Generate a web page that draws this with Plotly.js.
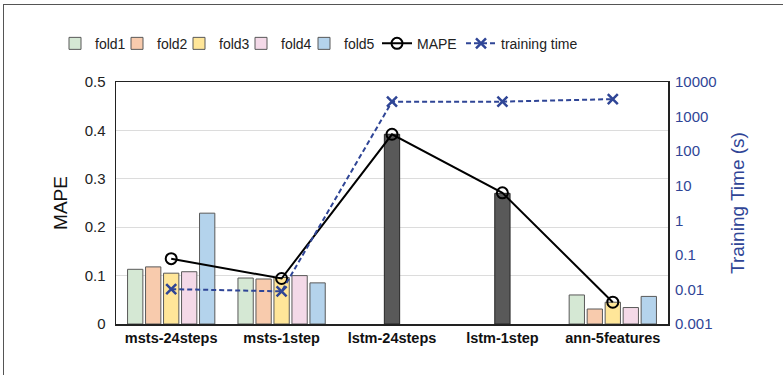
<!DOCTYPE html>
<html>
<head>
<meta charset="utf-8">
<script src="https://cdn.plot.ly/plotly-3.0.1.min.js"></script>
<style>
html,body{margin:0;padding:0;background:#fff;}
#chart{width:783px;height:375px;}
#frame{position:absolute;left:3px;top:4px;width:800px;height:400px;border-top:1.5px solid #555;border-left:1.5px solid #555;pointer-events:none;}
</style>
</head>
<body>
<div id="chart"></div>
<div id="frame"></div>
<script>
const categories = ['msts-24steps','msts-1step','lstm-24steps','lstm-1step','ann-5features'];
const fold1 = [0.113, 0.095, null, null, 0.060];
const fold2 = [0.118, 0.093, null, null, 0.031];
const fold3 = [0.105, 0.096, 0.392, 0.270, 0.045];
const fold4 = [0.108, 0.100, null, null, 0.034];
const fold5 = [0.229, 0.085, null, null, 0.057];
const mape = [0.135, 0.094, 0.392, 0.271, 0.045];
const trainingTime = [0.0102, 0.0088, 2700, 2700, 3200];
const rightTicks = [0.001, 0.01, 0.1, 1, 10, 100, 1000, 10000];
const rightTickText = ['0.001','0.01','0.1','1','10','100','1000','10000'];
const leftTicks = [0, 0.1, 0.2, 0.3, 0.4, 0.5];

const foldColors = ['#d5e8d4','#f8cbad','#ffe699','#f4d9e8','#b4d3ec'];
const isLstm = categories.map(c => c.startsWith('lstm'));
const blue = '#2f4596';

// legend entry left positions in pixels (layout only)
const legendPx = [55, 117, 179, 241, 304, 377, 461];
const legendIds = ['legend','legend2','legend3','legend4','legend5','legend6','legend7'];

function barTrace(name, y, color, idx) {
  const colors = idx === 2 ? isLstm.map(l => l ? '#595959' : color) : color;
  const lcolors = idx === 2 ? isLstm.map(l => l ? '#262626' : '#595959') : '#595959';
  return {type:'bar', name:name, x:categories, y:y, legend:legendIds[idx],
    marker:{color:colors, line:{color:lcolors, width:1}}, yaxis:'y'};
}

const traces = [
  barTrace('fold1', fold1, foldColors[0], 0),
  barTrace('fold2', fold2, foldColors[1], 1),
  barTrace('fold3', fold3, foldColors[2], 2),
  barTrace('fold4', fold4, foldColors[3], 3),
  barTrace('fold5', fold5, foldColors[4], 4),
  {type:'scatter', mode:'lines+markers', name:'MAPE', x:categories, y:mape, yaxis:'y', legend:legendIds[5],
    line:{color:'#000', width:2},
    marker:{symbol:'circle-open', size:11, color:'#000', line:{width:2, color:'#000'}}},
  {type:'scatter', mode:'lines+markers', name:'training time', x:categories, y:trainingTime, yaxis:'y2', legend:legendIds[6],
    line:{color:blue, width:2, dash:'5px,3px'},
    marker:{symbol:'x-thin', size:10, color:blue, line:{width:2.5, color:blue}}}
];

const layout = {
  width:783, height:375,
  margin:{l:116, r:115, t:81.5, b:50.5},
  paper_bgcolor:'#fff', plot_bgcolor:'#fff',
  font:{family:'Liberation Sans, Arial, sans-serif', color:'#222', size:15},
  barmode:'group', bargap:0.185, bargroupgap:0.15,
  showlegend:true,
  xaxis:{type:'category', showline:true, linecolor:'#222', linewidth:1.5, mirror:true,
    ticks:'', tickfont:{size:14.5, color:'#111', weight:'bold'}, showgrid:false, zeroline:false},
  yaxis:{range:[0,0.5], tickvals:leftTicks, showline:true, linecolor:'#222', linewidth:1.5, mirror:true,
    showgrid:true, gridcolor:'#dcdcdc', gridwidth:1, zeroline:false, ticks:'',
    tickfont:{size:15, color:'#222'}, ticklabelstandoff:6,
    title:{text:'MAPE', font:{size:19, color:'#111'}, standoff:12}},
  yaxis2:{type:'log', range:[-3,4], overlaying:'y', side:'right', tickvals:rightTicks, ticktext:rightTickText,
    showgrid:false, zeroline:false, showline:false, ticks:'',
    tickfont:{size:15, color:blue}, ticklabelstandoff:6,
    title:{text:'Training Time (s)', font:{size:19, color:blue}, standoff:14}}
};
legendIds.forEach((id, i) => {
  layout[id] = {orientation:'h', x:(legendPx[i] - 116) / 552, xanchor:'left', y:1.158, yanchor:'middle',
    font:{size:14, color:'#222'}, itemwidth:30, bgcolor:'rgba(0,0,0,0)'};
});

Plotly.newPlot('chart', traces, layout, {displayModeBar:false, staticPlot:true});
</script>
</body>
</html>
